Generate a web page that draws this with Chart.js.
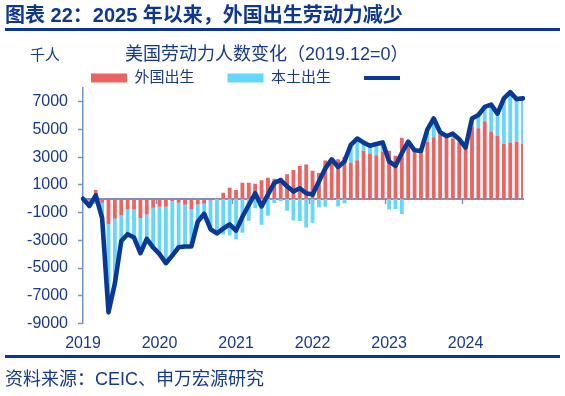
<!DOCTYPE html>
<html><head><meta charset="utf-8">
<script src="https://cdn.jsdelivr.net/npm/chart.js@4.4.1/dist/chart.umd.min.js"></script>
<style>
html,body{margin:0;padding:0;background:#fff;}
#wrap{position:relative;width:565px;height:396px;overflow:hidden;font-family:"Liberation Sans","Noto Sans CJK SC",sans-serif;color:#17398b;}
#c{position:absolute;left:0;top:0;}
.t{position:absolute;white-space:nowrap;line-height:1;}
.rule{position:absolute;left:5px;width:555px;height:3px;background:#0a3591;}
</style></head><body>
<div id="wrap">
<canvas id="c" width="565" height="396"></canvas>
<div class="t" style="left:5px;top:5px;font-size:20px;font-weight:bold;color:#0d3790;">图表 22：2025 年以来，外国出生劳动力减少</div>
<div class="rule" style="top:28px;"></div>
<div class="t" style="left:30px;top:47px;font-size:15px;">千人</div>
<div class="t" style="left:125px;top:45px;font-size:18px;">美国劳动力人数变化（2019.12=0）</div>
<div class="rule" style="top:355px;"></div>
<div class="t" style="left:5px;top:370px;font-size:18px;">资料来源：CEIC、申万宏源研究</div>
</div>
<script>
const months = ['2019-12',
 '2020-01','2020-02','2020-03','2020-04','2020-05','2020-06','2020-07','2020-08','2020-09','2020-10','2020-11','2020-12',
 '2021-01','2021-02','2021-03','2021-04','2021-05','2021-06','2021-07','2021-08','2021-09','2021-10','2021-11','2021-12',
 '2022-01','2022-02','2022-03','2022-04','2022-05','2022-06','2022-07','2022-08','2022-09','2022-10','2022-11','2022-12',
 '2023-01','2023-02','2023-03','2023-04','2023-05','2023-06','2023-07','2023-08','2023-09','2023-10','2023-11','2023-12',
 '2024-01','2024-02','2024-03','2024-04','2024-05','2024-06','2024-07','2024-08','2024-09','2024-10','2024-11','2024-12',
 '2025-01','2025-02','2025-03','2025-04','2025-05','2025-06','2025-07','2025-08','2025-09'];
const yearTicks = ['2019','2020','2021','2022','2023','2024'];
const yTicks = [-9000,-7000,-5000,-3000,-1000,1000,3000,5000,7000];

const foreignBorn = [0,-150,630,-290,-1820,-1450,-1210,-775,-775,-1380,-1140,-650,-580,
 -580,-170,-290,-435,-775,-410,-360,-120,50,435,800,630,
 1160,1160,1090,1330,1520,1450,1520,1770,2080,2370,2470,2030,
 1860,2760,2860,2860,3030,2610,2780,3460,3270,3150,3420,3470,
 3100,4400,4050,3350,3350,4120,4440,4630,4560,4360,4070,3640,
 5160,5090,5600,4850,4560,3950,4070,4120,4000];
const nativeBorn = [0,-380,-380,-1110,-6380,-4650,-1840,-1785,-2025,-2550,-1760,-2870,-3420,
 -4070,-3930,-3210,-3015,-2675,-1240,-720,-2080,-2550,-2585,-2650,-2930,
 -2460,-1610,-690,-1880,-1220,-300,-170,-870,-1560,-1610,-2070,-1730,
 -610,-560,-10,-560,-330,1290,1570,590,560,800,650,-770,
 -730,-1100,70,150,100,880,1360,170,-30,340,230,60,
 640,960,1040,1950,1590,3300,3630,3080,3250];
const totalForce = [0,-530,250,-1400,-8200,-6100,-3050,-2560,-2800,-3930,-2900,-3520,-4000,
 -4650,-4100,-3500,-3450,-3450,-1650,-1080,-2200,-2500,-2150,-1850,-2300,
 -1300,-450,400,-550,300,1150,1350,900,520,760,400,300,
 1250,2200,2850,2300,2700,3900,4350,4050,3830,3950,4070,2700,
 2370,3300,4120,3500,3450,5000,5800,4800,4530,4700,4300,3700,
 5800,6050,6640,6800,6150,7250,7700,7200,7250];

const RED = '#ea6462', CYAN = '#67d6fc', NAVY = '#0a3895', AXIS = '#7095c8', TEXT = '#17398b';
Chart.defaults.font.family = '"Liberation Sans","Noto Sans CJK SC",sans-serif';
Chart.defaults.color = TEXT;

// shift the legend row to the right so it starts under the chart title
const legendShift = {
  id:'legendShift',
  afterLayout(chart){ const lg = chart.legend; if (lg){ lg.left += 58; lg.right += 58; } }
};

new Chart(document.getElementById('c'), {
  data: {
    labels: months,
    datasets: [
      {type:'bar', label:'外国出生', data:foreignBorn, backgroundColor:RED, borderWidth:0, order:1, stack:'s',
       xAxisID:'x', yAxisID:'y', barPercentage:0.6, categoryPercentage:1},
      {type:'bar', label:'本土出生', data:nativeBorn, backgroundColor:CYAN, borderWidth:0, order:1, stack:'s',
       xAxisID:'x', yAxisID:'y', barPercentage:0.6, categoryPercentage:1},
      {type:'line', label:'', data:totalForce, borderColor:NAVY, backgroundColor:NAVY, borderWidth:4.6,
       pointRadius:0, tension:0, order:0, stack:'line', borderJoinStyle:'round', borderCapStyle:'round',
       xAxisID:'x', yAxisID:'y'}
    ]
  },
  plugins:[legendShift],
  options: {
    responsive:false, animation:false, devicePixelRatio:1,
    layout:{padding:{left:0, right:42, top:37.5, bottom:32.2}},
    plugins:{
      tooltip:{enabled:false},
      legend:{
        position:'top', align:'start', maxHeight:50.5,
        labels:{
          usePointStyle:true, pointStyleWidth:36, boxHeight:9, padding:33,
          font:{size:15}, color:TEXT,
          sort:(a,b)=>a.datasetIndex-b.datasetIndex,
          generateLabels:(chart)=>{
            const items = Chart.defaults.plugins.legend.labels.generateLabels(chart);
            return items.map(it=>{
              const ds = chart.data.datasets[it.datasetIndex];
              if (ds.type==='line'){ it.pointStyle='line'; it.lineWidth=4; it.strokeStyle=NAVY; it.text=''; it.lineCap='butt'; }
              else { it.pointStyle='rect'; it.lineWidth=0; }
              return it;
            });
          }
        }
      }
    },
    scales:{
      x:{
        type:'category', position:{y:0}, offset:false, stacked:true,
        grid:{display:true, offset:true, drawOnChartArea:false, drawTicks:true, tickLength:4, tickWidth:1.5,
          color:(c)=> (c.index%12===0 && c.index>0) ? AXIS : 'rgba(0,0,0,0)',
          tickColor:(c)=> (c.index%12===0 && c.index>0) ? AXIS : 'rgba(0,0,0,0)'},
        border:{display:true, color:AXIS, width:2},
        ticks:{display:false, autoSkip:false}
      },
      x2:{
        type:'category', axis:'x', position:'bottom', offset:false,
        grid:{display:false, drawTicks:false}, border:{display:false},
        ticks:{autoSkip:false, maxRotation:0, minRotation:0, padding:10.6, font:{size:16}, color:TEXT,
          callback:(v,i)=> i%12===0 ? yearTicks[i/12] : ''}
      },
      y:{
        stacked:true, min:-9000, max:8000,
        afterBuildTicks:(s)=>{ s.ticks = yTicks.map(v=>({value:v})); },
        afterFit:(s)=>{ s.width = 83; },
        grid:{drawOnChartArea:false, drawTicks:true, tickLength:5, tickColor:AXIS, tickWidth:1.5},
        border:{display:true, color:AXIS, width:1.5},
        ticks:{padding:10, font:{size:16}, color:TEXT, callback:(v)=>String(v)}
      }
    }
  }
});
</script>
</body></html>
